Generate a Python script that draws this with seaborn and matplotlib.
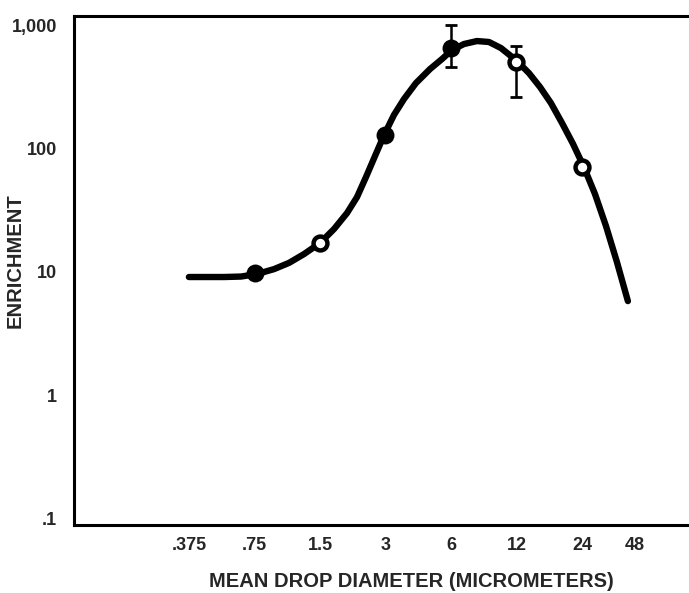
import numpy as np
import pandas as pd
import seaborn as sns
import matplotlib.pyplot as plt

# fitted curve
curve_x = [0.3745, 0.439, 0.5435, 0.650, 0.770, 0.922, 1.081, 1.266, 1.5, 1.740, 1.996, 2.219,
           2.440, 2.684, 2.953, 3.282, 3.651, 4.141, 4.809, 5.456, 6.06, 6.885, 7.897, 8.972,
           10.18, 11.32, 12.19, 13.70, 15.39, 17.29, 19.42, 21.82, 24.5, 27.54, 30.94, 34.74,
           39.02]
curve_y = [9.06, 9.06, 9.06, 9.14, 9.58, 10.5, 11.8, 13.9, 17.1, 22.2, 29.9, 40.3,
           58.6, 86.7, 128, 187, 252, 339, 441, 531, 628, 703, 743, 730,
           652, 561, 502, 408, 315, 233, 161, 109, 70.6, 42.7, 23.5, 12.0,
           5.78]

# measured points
pt_x = [0.75, 1.5, 3, 6, 12, 24]
pt_y = [9.76, 17.1, 128, 652, 503, 70.7]
pt_filled = [True, False, True, True, False, False]

# error bars
err_x = [6, 12]
err_y = [652, 503]
err_lo = [457, 261]
err_hi = [1000, 676]

xtick_pos = [0.375, 0.75, 1.5, 3, 6, 12, 24, 42]
xtick_lab = [".375", ".75", "1.5", "3", "6", "12", "24", "48"]
ytick_pos = [0.1, 1, 10, 100, 1000]
ytick_lab = [".1", "1", "10", "100", "1,000"]

sns.set_style("white")
plt.rcParams['font.family'] = ['Liberation Sans', 'DejaVu Sans']

fig = plt.figure(figsize=(6.89, 5.93), dpi=100)
ax = fig.add_axes([0.1074, 0.1147, 0.8926, 0.8583])

df_curve = pd.DataFrame({"x": curve_x, "y": curve_y})
sns.lineplot(data=df_curve, x="x", y="y", color="black", linewidth=4.6, ax=ax,
             sort=False, solid_capstyle="round", solid_joinstyle="round")

ey = np.array(err_y)
ax.errorbar(err_x, err_y, yerr=[ey - np.array(err_lo), np.array(err_hi) - ey], fmt="none",
            ecolor="black", elinewidth=1.8, capsize=4.5, capthick=2, zorder=3)

df_pts = pd.DataFrame({"x": pt_x, "y": pt_y, "filled": pt_filled})
filled = df_pts[df_pts["filled"]]
hollow = df_pts[~df_pts["filled"]]
sns.scatterplot(data=filled, x="x", y="y", color="black", s=130, edgecolor="black",
                linewidth=1.5, ax=ax, zorder=4)
sns.scatterplot(data=hollow, x="x", y="y", color="white", s=100, edgecolor="black",
                linewidth=3.2, ax=ax, zorder=4)

ax.set_xscale("log", base=2)
ax.set_yscale("log")
ax.set_xlim(0.111, 74.5)
ax.set_ylim(0.0883, 1186)
ax.set_xticks(xtick_pos)
ax.set_xticklabels(xtick_lab)
ax.set_yticks(ytick_pos)
ax.set_yticklabels(ytick_lab)
ax.minorticks_off()
ax.tick_params(axis="both", length=0, labelsize=13)
ax.tick_params(axis="x", pad=9)
ax.tick_params(axis="y", pad=12)
for lab in ax.get_xticklabels() + ax.get_yticklabels():
    lab.set_fontweight("bold")

ax.set_xlabel("MEAN DROP DIAMETER (MICROMETERS)", fontsize=14.5, fontweight="bold")
ax.set_ylabel("ENRICHMENT", fontsize=14.5, fontweight="bold")
ax.xaxis.set_label_coords(0.548, -0.092)
ax.yaxis.set_label_coords(-0.080, 0.519)

for side in ["left", "bottom", "top"]:
    ax.spines[side].set_color("black")
    ax.spines[side].set_linewidth(2.2)
ax.spines["right"].set_visible(False)

fig.savefig("out.png", dpi=100)
